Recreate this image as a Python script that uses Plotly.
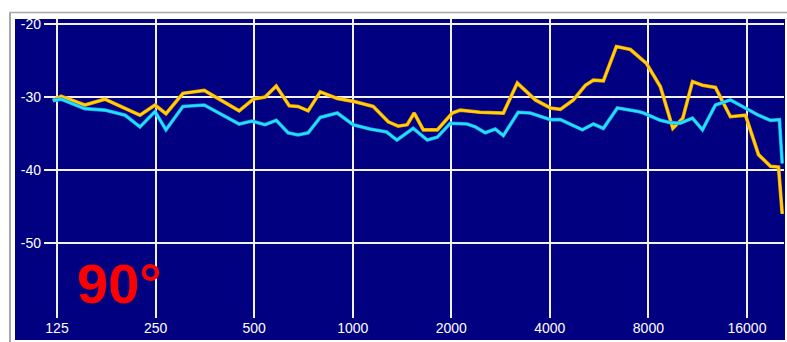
import plotly.graph_objects as go

# ---- data ----
freq_yellow = [121.5, 128.6, 152, 175, 224, 249, 269, 303, 352, 450, 497, 540, 584, 640, 681, 731, 796,
               897, 1004, 1155, 1284, 1377, 1467, 1541, 1643, 1813, 2014, 2130, 2452, 2884, 3182, 3612,
               4014, 4307, 4720, 5134, 5434, 5829, 6386, 7048, 7890, 8705, 9500, 10190, 10905, 11700,
               12815, 14240, 15833, 17350, 18880, 19973, 20500]
db_yellow = [-30.5, -29.9, -31.1, -30.3, -32.5, -31.1, -32.3, -29.5, -29.1, -31.9, -30.3, -30.0, -28.5,
             -31.2, -31.3, -31.9, -29.3, -30.2, -30.6, -31.3, -33.4, -34.0, -33.8, -32.2, -34.5, -34.5,
             -32.2, -31.8, -32.1, -32.2, -28.1, -30.4, -31.5, -31.7, -30.4, -28.4, -27.7, -27.8, -23.1,
             -23.5, -25.4, -28.6, -34.3, -32.9, -27.9, -28.4, -28.7, -32.7, -32.5, -37.9, -39.5, -39.6,
             -46.0]

freq_cyan = [121.5, 128.6, 152, 175, 202, 224, 249, 269, 303, 352, 450, 492, 540, 584, 635, 681, 731,
             796, 897, 1004, 1130, 1270, 1365, 1530, 1690, 1813, 1986, 2238, 2369, 2540, 2726, 2884,
             3200, 3487, 4014, 4307, 5030, 5434, 5829, 6431, 7455, 7725, 8705, 9300, 10000, 10905,
             11700, 12815, 14240, 15833, 17350, 18880, 20100, 20500]
db_cyan = [-30.5, -30.3, -31.6, -31.8, -32.5, -34.1, -32.0, -34.5, -31.3, -31.1, -33.7, -33.3, -33.8,
           -33.2, -34.9, -35.2, -34.9, -32.8, -32.2, -33.8, -34.4, -34.8, -35.9, -34.3, -35.9, -35.5,
           -33.6, -33.7, -34.1, -34.9, -34.4, -35.3, -32.1, -32.2, -33.1, -33.1, -34.5, -33.7, -34.3,
           -31.5, -32.0, -32.2, -33.2, -33.5, -33.6, -32.9, -34.5, -31.1, -30.4, -31.5, -32.5, -33.2,
           -33.1, -39.1]

x_ticks = [125, 250, 500, 1000, 2000, 4000, 8000, 16000]
x_tick_labels = ["125", "250", "500", "1000", "2000", "4000", "8000", "16000"]
y_ticks = [-50, -40, -30, -20]
y_tick_labels = ["-50", "-40", "-30", "-20"]
label_text = "90°"

# ---- layout geometry (pixels) ----
W, H = 787, 342
L, R, T, B = 44, 3, 19, 24
pw, ph = W - L - R, H - T - B


def px(x):
    return (x - L) / pw


def py(y):
    return (H - B - y) / ph


NAVY = "#000080"

fig = go.Figure()
fig.add_trace(go.Scatter(x=freq_yellow, y=db_yellow, mode="lines",
                         line=dict(color="#F09A10", width=3.6), hoverinfo="skip"))
fig.add_trace(go.Scatter(x=freq_yellow, y=db_yellow, mode="lines",
                         line=dict(color="#FFD400", width=2.2)))
fig.add_trace(go.Scatter(x=freq_cyan, y=db_cyan, mode="lines",
                         line=dict(color="#1AA0EA", width=3.6), hoverinfo="skip"))
fig.add_trace(go.Scatter(x=freq_cyan, y=db_cyan, mode="lines",
                         line=dict(color="#22E4FF", width=2.2)))

shapes = [
    # navy panel
    dict(type="rect", xref="paper", yref="paper", x0=px(15), x1=px(785), y0=py(340), y1=py(19),
         fillcolor=NAVY, line=dict(width=0), layer="below"),
    # sunken frame
    dict(type="line", xref="paper", yref="paper", x0=px(9.5), x1=px(787), y0=py(12.5), y1=py(12.5),
         line=dict(color="#A8A8A8", width=1.5)),
    dict(type="line", xref="paper", yref="paper", x0=px(10), x1=px(10), y0=py(12.5), y1=py(342),
         line=dict(color="#A8A8A8", width=2)),
]

fig.update_layout(
    width=W, height=H,
    margin=dict(l=L, r=R, t=T, b=B, pad=0),
    paper_bgcolor="white",
    plot_bgcolor=NAVY,
    showlegend=False,
    shapes=shapes,
    font=dict(family="Liberation Sans, Arial, sans-serif", size=14, color="white"),
    annotations=[dict(text=label_text, xref="paper", yref="paper", x=px(119), y=py(283.5),
                      xanchor="center", yanchor="middle", showarrow=False,
                      font=dict(family="Liberation Sans, Arial, sans-serif", size=56, color="#FF0000",
                                weight="bold"))],
)
fig.update_xaxes(type="log", range=[2.05721, 4.31717], tickvals=x_ticks, ticktext=x_tick_labels,
                 showgrid=True, gridcolor="#F2F2F2", gridwidth=1.6, zeroline=False, showline=False,
                 ticks="", ticklabelstandoff=0, tickfont=dict(color="white", size=14))
fig.update_yaxes(range=[-60.27, -19.32], tickvals=y_ticks, ticktext=y_tick_labels,
                 showgrid=True, gridcolor="#F2F2F2", gridwidth=1.6, zeroline=False, showline=False,
                 ticks="", ticklabelstandoff=2, tickfont=dict(color="white", size=14))

fig.write_html("out.html")
